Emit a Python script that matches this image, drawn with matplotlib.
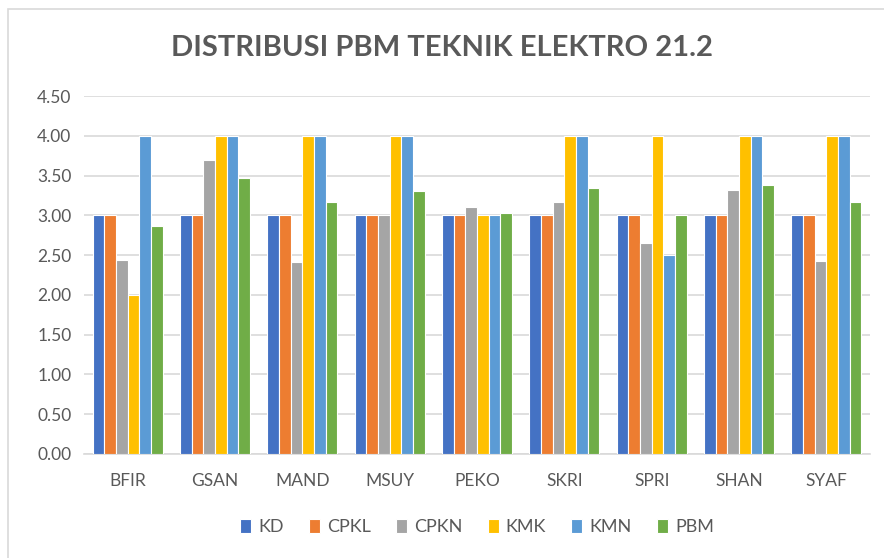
import matplotlib.pyplot as plt
import numpy as np
from matplotlib.patches import Rectangle

# Data
names = ['BFIR', 'GSAN', 'MAND', 'MSUY', 'PEKO', 'SKRI', 'SPRI', 'SHAN', 'SYAF']
series = ['KD', 'CPKL', 'CPKN', 'KMK', 'KMN', 'PBM']
kd = [3.00, 3.00, 3.00, 3.00, 3.00, 3.00, 3.00, 3.00, 3.00]
cpkl = [3.00, 3.00, 3.00, 3.00, 3.00, 3.00, 3.00, 3.00, 3.00]
cpkn = [2.44, 3.70, 2.41, 3.01, 3.10, 3.17, 2.65, 3.32, 2.42]
kmk = [2.00, 4.00, 4.00, 4.00, 3.00, 4.00, 4.00, 4.00, 4.00]
kmn = [4.00, 4.00, 4.00, 4.00, 3.00, 4.00, 2.50, 4.00, 4.00]
pbm = [2.87, 3.47, 3.17, 3.31, 3.03, 3.34, 3.00, 3.38, 3.17]

colors = ['#4472C4', '#ED7D31', '#A5A5A5', '#FFC000', '#5B9BD5', '#70AD47']
plt.rcParams['font.family'] = ['Lato', 'DejaVu Sans']

fig = plt.figure(figsize=(8.84, 5.58), dpi=100)
ax = fig.add_axes([84 / 884, 1 - 454 / 558, 786 / 884, 358 / 558])

# light border around the chart area
fig.patches.append(Rectangle((8 / 884, -0.1), 1.2, 1.1 - 9 / 558,
                             transform=fig.transFigure, fill=False,
                             edgecolor='#D9D9D9', linewidth=1.2))

x = np.arange(len(names))
width = 0.133
all_values = [kd, cpkl, cpkn, kmk, kmn, pbm]
for i, (vals, lab, col) in enumerate(zip(all_values, series, colors)):
    ax.bar(x + (i - 2.5) * width, vals, width, label=lab, color=col,
           edgecolor='white', linewidth=0.8, zorder=3)

ax.set_xlim(-0.5, len(names) - 0.5)
ax.set_ylim(0, 4.5)
ax.set_yticks(np.arange(0, 4.51, 0.5))
ax.set_yticklabels(['%.2f' % v for v in np.arange(0, 4.51, 0.5)])
ax.set_xticks(x)
ax.set_xticklabels(names)
ax.grid(axis='y', color='#D9D9D9', linewidth=1.2, zorder=0)
for s in ['top', 'right', 'left']:
    ax.spines[s].set_visible(False)
ax.spines['bottom'].set_color('#D9D9D9')
ax.spines['bottom'].set_linewidth(1.2)
ax.tick_params(axis='both', length=0, labelsize=12.5, colors='#595959')
ax.tick_params(axis='x', pad=14)
ax.tick_params(axis='y', pad=9)

fig.text(0.5, 1 - 48 / 558, 'DISTRIBUSI PBM TEKNIK ELEKTRO 21.2',
         ha='center', va='center', fontsize=21, fontweight='bold',
         color='#595959')

ax.legend(loc='center', bbox_to_anchor=(0.5, -(527 - 454) / 358), ncol=6,
          frameon=False, fontsize=13, labelcolor='#595959',
          handlelength=0.6, handleheight=0.8, handletextpad=0.4,
          columnspacing=1.4)

fig.savefig('out.png', dpi=100)
